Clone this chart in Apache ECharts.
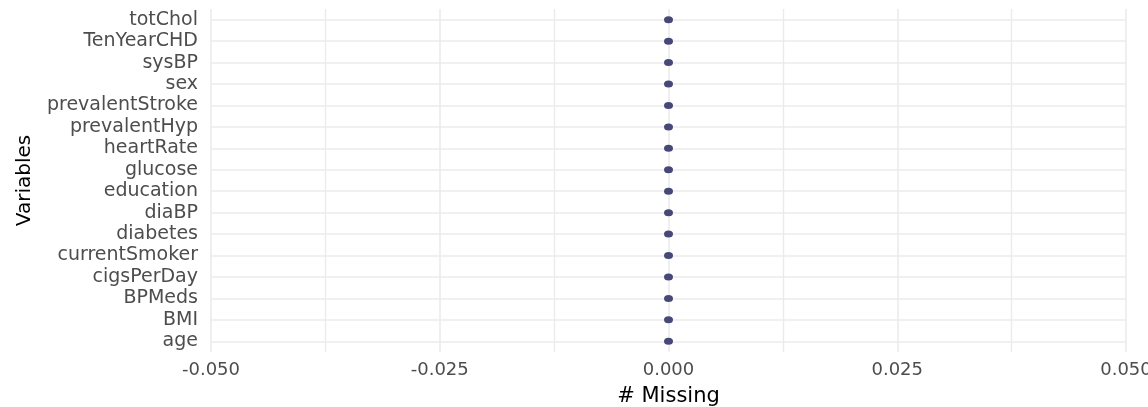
<!DOCTYPE html>
<html>
<head>
<meta charset="utf-8">
<script src="https://cdn.jsdelivr.net/npm/echarts@6/dist/echarts.min.js"></script>
<style>
  html, body { margin: 0; padding: 0; background: #fff; }
  #chart { width: 1148px; height: 407px; }
</style>
</head>
<body>
<div id="chart"></div>
<script>
// Variables, listed top to bottom as in the chart
const variables = ["totChol", "TenYearCHD", "sysBP", "sex", "prevalentStroke", "prevalentHyp",
  "heartRate", "glucose", "education", "diaBP", "diabetes", "currentSmoker",
  "cigsPerDay", "BPMeds", "BMI", "age"];
// Number missing per variable
const nMissing = [0, 0, 0, 0, 0, 0, 0, 0, 0, 0, 0, 0, 0, 0, 0, 0];
// X axis range and tick step
const xMin = -0.05, xMax = 0.05, xStep = 0.025;

const chart = echarts.init(document.getElementById('chart'), null, { renderer: 'canvas' });
const gridColor = '#ebebeb';
const font = 'DejaVu Sans, Verdana, sans-serif';

chart.setOption({
  animation: false,
  backgroundColor: '#ffffff',
  grid: { left: 211, right: 22, top: 9, bottom: 55, containLabel: false, outerBoundsMode: 'none' },
  xAxis: {
    type: 'value',
    min: xMin, max: xMax, interval: xStep,
    name: '# Missing',
    nameLocation: 'middle',
    nameGap: 34,
    nameTextStyle: { color: '#000000', fontSize: 21, fontFamily: font },
    axisLine: { show: false },
    axisTick: { show: false },
    axisLabel: {
      color: '#4d4d4d', fontSize: 18, fontFamily: font, margin: 9,
      hideOverlap: false,
      formatter: v => v.toFixed(3)
    },
    splitLine: { show: true, lineStyle: { color: gridColor, width: 1.6 } },
    minorTick: { show: false, splitNumber: 2 },
    minorSplitLine: { show: true, lineStyle: { color: gridColor, width: 1.4 } }
  },
  yAxis: {
    type: 'category',
    data: variables,
    inverse: true,
    boundaryGap: true,
    name: 'Variables',
    nameLocation: 'middle',
    nameRotate: 90,
    nameGap: 176,
    nameTextStyle: { color: '#000000', fontSize: 20, fontFamily: font },
    axisLine: { show: false },
    axisTick: { show: false, interval: 0 },
    axisLabel: { color: '#4d4d4d', fontSize: 19, fontFamily: font, margin: 13, interval: 0 },
    splitLine: { show: true, interval: 0, alignWithLabel: true, lineStyle: { color: gridColor, width: 1.6 } }
  },
  series: [{
    type: 'scatter',
    data: nMissing,
    symbol: 'circle',
    symbolSize: [9, 7],
    itemStyle: { color: '#484878', opacity: 1 }
  }]
});
</script>
</body>
</html>
